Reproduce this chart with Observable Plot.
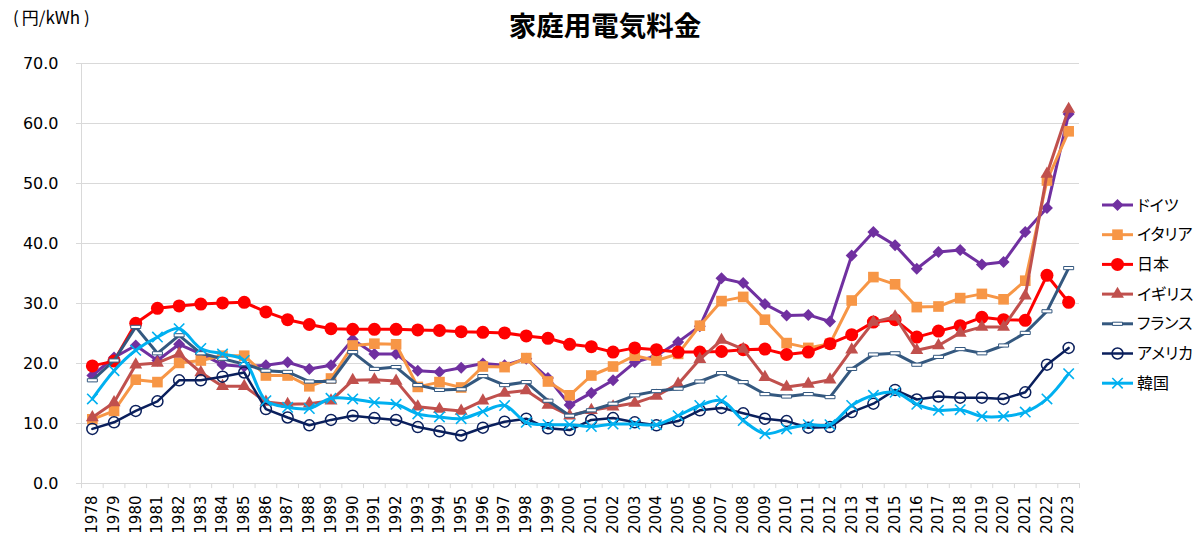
<!DOCTYPE html>
<html><head><meta charset="utf-8">
<script src="https://cdn.jsdelivr.net/npm/d3@7"></script>
<script src="https://cdn.jsdelivr.net/npm/@observablehq/plot@0.6"></script>
<style>
body{margin:0;background:#fff;}
#wrap{position:relative;width:1200px;height:543px;overflow:hidden;font-family:"DejaVu Sans","Noto Sans CJK JP",sans-serif;}
#title{position:absolute;left:0;width:1210px;top:9px;line-height:30px;text-align:center;font-family:"Noto Sans CJK JP",sans-serif;font-weight:bold;font-size:27.5px;color:#000;}
#unit{position:absolute;left:13px;top:6px;line-height:22px;font-family:"Noto Sans CJK JP",sans-serif;font-size:17px;color:#000;white-space:nowrap;}
#unit .p{display:inline-block;}
#legend{position:absolute;left:1095px;top:190px;}
#chart{position:absolute;left:0;top:0;}
</style></head>
<body>
<div id="wrap">
  <div id="chart"></div>
  <div id="title">家庭用電気料金</div>
  <div id="unit"><span class="p" style="margin-right:3px">(</span>円/kWh<span class="p" style="margin-left:4px">)</span></div>
  <div id="legend"></div>
</div>
<script>
const years = d3.range(1978, 2024);
const yTicks = [0, 10, 20, 30, 40, 50, 60, 70];

const germany = [18.0,21.0,23.0,20.5,23.2,21.6,19.8,19.5,19.7,20.2,19.1,19.7,24.0,21.6,21.6,18.8,18.6,19.3,20.0,19.7,20.8,17.6,13.1,15.1,17.2,20.2,21.3,23.6,26.2,34.2,33.4,29.9,28.0,28.1,27.0,38.0,41.9,39.7,35.8,38.6,38.9,36.5,36.9,41.9,45.9,61.6];
const italy = [10.7,12.1,17.3,16.9,20.1,20.5,21.3,21.3,18.0,18.0,16.2,17.5,23.0,23.3,23.2,16.1,16.9,16.0,19.5,19.4,20.9,17.0,14.7,18.0,19.5,21.3,20.5,21.6,26.3,30.4,31.1,27.3,23.4,22.6,23.3,30.5,34.4,33.2,29.4,29.5,30.9,31.6,30.7,33.8,50.5,58.7];
const japan = [19.6,20.4,26.7,29.2,29.6,29.9,30.1,30.2,28.6,27.3,26.5,25.8,25.7,25.7,25.7,25.6,25.5,25.3,25.2,25.1,24.6,24.2,23.2,22.8,21.9,22.6,22.3,21.9,21.9,22.0,22.3,22.4,21.5,21.9,23.3,24.8,26.9,27.3,24.4,25.4,26.3,27.7,27.3,27.2,34.7,30.2];
const uk = [11.0,13.5,19.8,20.1,21.6,18.5,16.2,16.2,13.6,13.2,13.3,13.8,17.2,17.3,17.1,12.8,12.4,12.1,13.8,15.1,15.5,13.1,11.3,12.2,12.8,13.4,14.6,16.6,20.7,23.9,22.4,17.7,16.1,16.6,17.3,22.3,26.9,27.8,22.2,23.0,25.1,26.1,26.1,31.3,51.6,62.4];
const france = [17.2,20.5,26.1,21.7,24.7,21.7,20.8,19.9,18.8,18.6,17.0,17.0,21.9,19.1,19.4,16.4,15.6,15.7,17.9,16.4,16.9,13.8,11.3,12.2,13.3,14.7,15.4,15.8,17.0,18.4,16.9,14.9,14.5,14.9,14.4,19.1,21.5,21.7,19.8,21.1,22.4,21.7,23.0,25.1,28.7,35.9];
const usa = [9.1,10.2,12.1,13.7,17.2,17.2,17.8,18.5,12.4,11.0,9.7,10.6,11.3,10.9,10.6,9.4,8.7,8.0,9.3,10.3,10.8,9.2,8.9,10.6,10.9,10.2,9.7,10.4,12.2,12.6,11.7,10.8,10.4,9.3,9.4,11.9,13.3,15.6,14.0,14.5,14.3,14.3,14.1,15.2,19.8,22.6];
const korea = [14.1,18.8,22.2,24.4,25.8,22.5,21.6,20.5,13.8,12.7,12.5,14.2,14.1,13.5,13.2,11.6,11.1,10.8,12.0,13.0,10.2,9.8,9.8,9.5,9.9,9.9,9.8,11.3,13.0,13.8,10.5,8.3,9.1,9.8,9.8,13.0,14.7,15.2,13.2,12.2,12.3,11.2,11.2,11.9,14.1,18.3];

const seriesNames = ["ドイツ","イタリア","日本","イギリス","フランス","アメリカ","韓国"];
const seriesValues = [germany, italy, japan, uk, france, usa, korea];

// custom dash marker (Excel "dash")
const dashSymbol = {draw(ctx, size){ ctx.rect(-5, -1.6, 10, 3.2); }};

const styles = {
  "ドイツ":   {color:"#7030A0", symbol:"diamond2", r:5.4, fill:"#7030A0", stroke:"none", sw:0, lw:3, curve:"linear"},
  "イタリア": {color:"#F79646", symbol:"square",   r:6.0, fill:"#F79646", stroke:"none", sw:0, lw:3, curve:"linear"},
  "日本":     {color:"#FF0000", symbol:"circle",   r:6.5, fill:"#FF0000", stroke:"none", sw:0, lw:3, curve:"linear"},
  "イギリス": {color:"#C0504D", symbol:"triangle", r:4.8, fill:"#C0504D", stroke:"none", sw:0, lw:3, curve:"linear"},
  "フランス": {color:"#34587F", symbol:dashSymbol, r:4,   fill:"#ffffff", stroke:"#34587F", sw:1, lw:3, curve:"linear"},
  "アメリカ": {color:"#0A1F5C", symbol:"circle",   r:5.5, fill:"none",    stroke:"#0A1F5C", sw:1.5, lw:2.5, curve:"linear"},
  "韓国":     {color:"#00B0F0", symbol:"times",    r:4.8, fill:"none",    stroke:"#00B0F0", sw:1.6, lw:3, curve:"catmull-rom"}
};

const table = [];
seriesNames.forEach((name, i) => {
  seriesValues[i].forEach((v, j) => table.push({series: name, year: years[j], value: v}));
});

const bounds = years.map(y => y - 0.5).concat([years[years.length - 1] + 0.5]);
const x0 = bounds[0], x1 = bounds[bounds.length - 1];

const marks = [
  Plot.ruleY(yTicks, {y: d => d, x1: x0 - 0.23, x2: x1, stroke: "#d9d9d9", strokeWidth: 1}),
  Plot.ruleX([x0], {stroke: "#d9d9d9", strokeWidth: 1}),
  Plot.ruleX(bounds, {x: d => d, y1: 0, y2: -0.85, stroke: "#d9d9d9", strokeWidth: 1}),
  Plot.text(yTicks, {x: x0, y: d => d, text: d => d.toFixed(1), textAnchor: "end", dx: -23, fontSize: 16, fill: "#000"}),
  Plot.text(years, {x: d => d, y: 0, text: d => String(d), rotate: -90, textAnchor: "end", lineAnchor: "middle", dy: 12, fontSize: 15, fill: "#000"})
];

seriesNames.forEach(name => {
  const s = styles[name];
  const data = table.filter(d => d.series === name);
  marks.push(Plot.line(data, {x: "year", y: "value", stroke: s.color, strokeWidth: s.lw, curve: s.curve, strokeLinejoin: "round"}));
  marks.push(Plot.dot(data, {x: "year", y: "value", symbol: () => s.symbol, r: s.r, fill: s.fill, stroke: s.stroke, strokeWidth: s.sw}));
});

const chart = Plot.plot({
  width: 1200, height: 543,
  marginTop: 63, marginBottom: 60, marginLeft: 81, marginRight: 121,
  x: {type: "linear", domain: [x0, x1], axis: null},
  y: {type: "linear", domain: [0, 70], axis: null},
  symbol: {type: "identity"},
  style: {fontFamily: '"DejaVu Sans","Noto Sans CJK JP",sans-serif', background: "#fff", color: "#000", overflow: "visible"},
  marks
});
document.getElementById("chart").appendChild(chart);

// legend
const lg = d3.select("#legend").append("svg").attr("width", 105).attr("height", 210);
seriesNames.forEach((name, i) => {
  const s = styles[name];
  const cy = 15 + i * 29.7;
  const g = lg.append("g").attr("transform", `translate(0,${cy})`);
  g.append("line").attr("x1", 7).attr("x2", 38).attr("y1", 0).attr("y2", 0)
    .attr("stroke", s.color).attr("stroke-width", s.lw);
  const sym = typeof s.symbol === "string"
    ? ({diamond2: d3.symbolDiamond2, square: d3.symbolSquare, circle: d3.symbolCircle, triangle: d3.symbolTriangle, times: d3.symbolTimes})[s.symbol]
    : s.symbol;
  g.append("path").attr("transform", "translate(22.5,0)")
    .attr("d", d3.symbol(sym, Math.PI * s.r * s.r)())
    .attr("fill", s.fill).attr("stroke", s.stroke === "none" ? null : s.stroke).attr("stroke-width", s.sw);
  g.append("text").attr("x", 42).attr("y", 0).attr("dy", "0.35em")
    .attr("font-family", '"Noto Sans CJK JP",sans-serif').attr("font-size", 16)
    .style("font-feature-settings", '"palt"')
    .attr("fill", "#000").text(name);
});
</script>
</body></html>
